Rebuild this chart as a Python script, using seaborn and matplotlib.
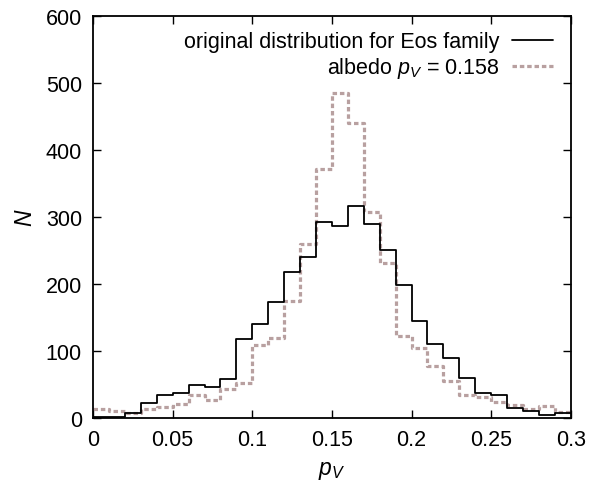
import numpy as np
import pandas as pd
import matplotlib
matplotlib.use("Agg")
import matplotlib.pyplot as plt
import seaborn as sns
from matplotlib.lines import Line2D

# bin edges for p_V (width 0.01)
edges = [round(0.01 * i, 2) for i in range(31)]
centers = [(edges[i] + edges[i + 1]) / 2 for i in range(30)]

# counts
original_counts = [2, 2, 7, 22, 35, 38, 49, 47, 59, 118,
                   141, 173, 218, 241, 292, 287, 316, 289, 251, 199,
                   145, 110, 89, 60, 38, 35, 15, 10, 5, 7]
albedo_counts = [13, 10, 7, 14, 17, 21, 35, 27, 43, 53,
                 109, 120, 175, 259, 371, 485, 441, 307, 231, 123,
                 104, 77, 56, 35, 31, 24, 20, 13, 18, 9]

df = pd.DataFrame({"pV": centers, "orig": original_counts, "albedo": albedo_counts})

sns.set_style("ticks")
plt.rcParams['font.family'] = ['Liberation Sans', 'DejaVu Sans']
plt.rcParams['mathtext.fontset'] = 'custom'
plt.rcParams['mathtext.it'] = 'Liberation Sans:italic'
plt.rcParams['mathtext.rm'] = 'Liberation Sans'
plt.rcParams['text.color'] = 'black'
plt.rcParams['axes.labelcolor'] = 'black'

dash_col = "#b8a0a0"
fs = 15.5

fig = plt.figure(figsize=(5.89, 4.85), dpi=100)
ax = fig.add_axes([0.158, 0.136, 0.811, 0.829])

sns.histplot(data=df, x="pV", weights="albedo", bins=edges, element="step",
             fill=False, color=dash_col, linewidth=2.3, ax=ax,
             linestyle=(0, (1.4, 0.9)))
sns.histplot(data=df, x="pV", weights="orig", bins=edges, element="step",
             fill=False, color="black", linewidth=1.3, ax=ax)

ax.set_xlim(0, 0.3)
ax.set_ylim(0, 600)
ax.set_xticks([0, 0.05, 0.1, 0.15, 0.2, 0.25, 0.3])
ax.set_xticklabels(["0", "0.05", "0.1", "0.15", "0.2", "0.25", "0.3"])
ax.set_yticks(range(0, 601, 100))
ax.tick_params(direction="in", top=True, right=True, length=6, width=1,
               labelsize=fs, pad=8, colors="black")
for s in ax.spines.values():
    s.set_linewidth(1.3)
    s.set_color("black")

ax.set_xlabel("$p_V$", fontsize=fs + 1, labelpad=6)
ax.set_ylabel("$N$", fontsize=fs + 1, labelpad=6)

handles = [Line2D([], [], color="black", linewidth=1.3),
           Line2D([], [], color=dash_col, linewidth=2.3, linestyle=(0, (1.4, 0.9)))]
labels = ["original distribution for Eos family", "albedo $p_V$ = 0.158"]
ax.legend(handles, labels, loc="upper right", frameon=False, markerfirst=False,
          fontsize=fs, handlelength=1.9, handletextpad=0.6, labelspacing=0.15,
          borderaxespad=0.3, bbox_to_anchor=(0.995, 1.0))

fig.savefig("out.png", dpi=100)
